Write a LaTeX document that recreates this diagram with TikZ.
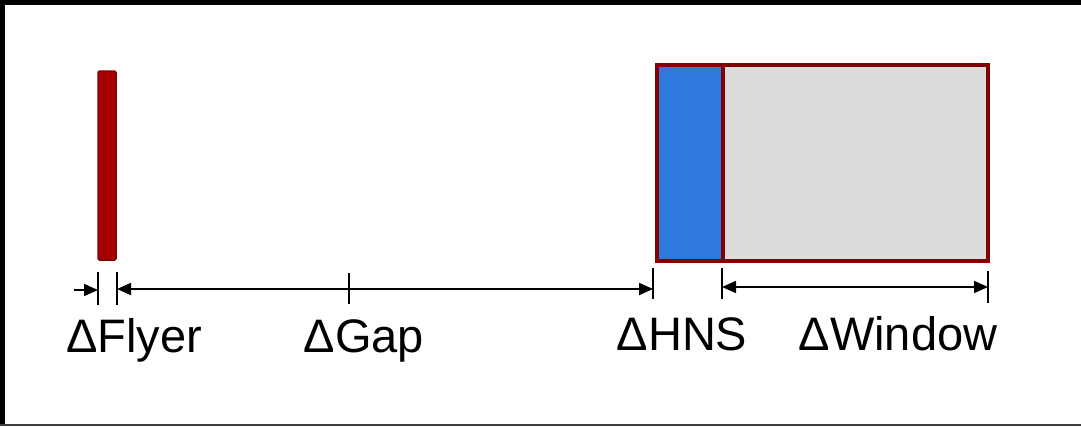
\documentclass[tikz,border=0pt]{standalone}
\usepackage{fontspec}
\setmainfont{Liberation Sans}
\usetikzlibrary{arrows.meta}
\definecolor{flyerfill}{HTML}{A60000}
\definecolor{flyerline}{HTML}{8A0000}
\definecolor{boxline}{HTML}{840000}
\definecolor{hnsblue}{HTML}{2F78DC}
\definecolor{wingray}{HTML}{DCDCDC}
\tikzset{
  dimarrow/.style={line width=1.8pt, -{Triangle[length=14pt,width=12pt]}},
  dimboth/.style={line width=1.8pt, {Triangle[length=14pt,width=12pt]}-{Triangle[length=14pt,width=12pt]}},
  tickline/.style={line width=1.8pt},
  lbl/.style={inner sep=0pt, anchor=base, font=\fontsize{47}{50}\selectfont},
  panel/.style={draw=boxline, line width=4pt, inner sep=0pt},
}
\begin{document}
\begin{tikzpicture}[x=1pt,y=-1pt]
\useasboundingbox (0,0) rectangle (1081,426);
\fill[white] (0,0) rectangle (1081,426);
% frame
\fill[black] (0,0) rectangle (1081,4.5);
\fill[black] (0,0) rectangle (5,426);
\fill[black!75] (0,423.5) rectangle (1081,426);
% flyer
\node[draw=flyerline, fill=flyerfill, line width=1.5pt, rounded corners=1.5pt, inner sep=0pt,
      minimum width=18pt, minimum height=189pt] (flyer) at (107,165.5) {};
% HNS and window
\node[panel, fill=hnsblue, minimum width=66pt, minimum height=196pt, anchor=north west] (hns) at (655,63) {};
\node[panel, fill=wingray, minimum width=265pt, minimum height=196pt, anchor=north west] (win) at (721,63) {};
% coordinates for ticks
\coordinate (fa0) at (74,290);
\coordinate (f1t) at (98,272); \coordinate (f1b) at (98,305);
\coordinate (f2t) at (117,272); \coordinate (f2b) at (117,305);
\coordinate (gt) at (349,273); \coordinate (gb) at (349,304);
\coordinate (h1t) at (653,268); \coordinate (h1b) at (653,299);
\coordinate (h2t) at (722,268); \coordinate (h2b) at (722,299);
\coordinate (w1t) at (988,271); \coordinate (w1b) at (988,303);
\foreach \a/\b in {f1t/f1b, f2t/f2b, gt/gb, h1t/h1b, h2t/h2b, w1t/w1b}
  \draw[tickline] (\a) -- (\b);
\coordinate (fa1) at (98,290);
\coordinate (ga0) at (117,289);
\coordinate (ga1) at (653,289);
\coordinate (wa0) at (722,287);
\coordinate (wa1) at (988,287);
\draw[dimarrow] (fa0) -- (fa1);
\draw[dimboth] (ga0) -- (ga1);
\draw[dimboth] (wa0) -- (wa1);
% labels
\node[lbl] (lflyer) at (134,352) {ΔFlyer};
\node[lbl] (lgap) at (364,352) {ΔGap};
\node[lbl] (lhns) at (682,350) {ΔHNS};
\node[lbl] (lwin) at (898,350) {ΔWindow};
\end{tikzpicture}
\end{document}
